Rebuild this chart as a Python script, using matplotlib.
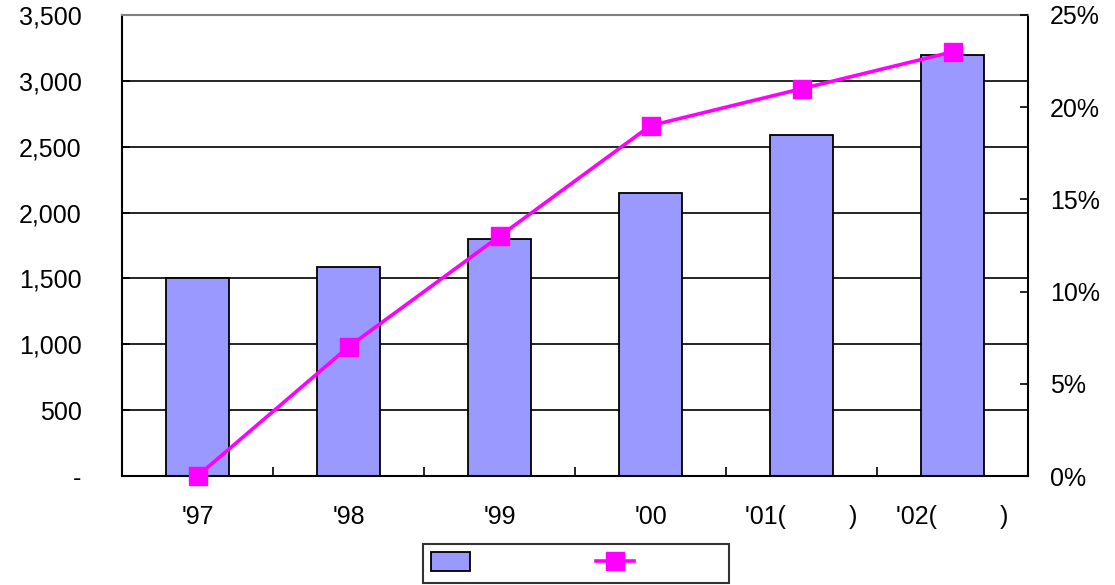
import numpy as np
import matplotlib.pyplot as plt
from matplotlib.ticker import FuncFormatter
from matplotlib.lines import Line2D
from matplotlib.patches import Patch

plt.rcParams['font.family'] = ['Liberation Sans', 'DejaVu Sans']

years = ["'97", "'98", "'99", "'00", "'01(         )", "'02(         )"]
amounts = [1500, 1590, 1800, 2150, 2590, 3200]
share = [0.0, 7.0, 13.0, 19.0, 21.0, 23.0]

fs = 18
fig = plt.figure(figsize=(11.15, 5.85), dpi=100)
ax = fig.add_axes([122 / 1115, 109 / 585, 906 / 1115, 461 / 585])
x = np.arange(len(years))

ax.bar(x, amounts, width=0.42, color='#9999ff', edgecolor='black', linewidth=1.3, zorder=2)
ax.set_xlim(-0.5, len(years) - 0.5)
ax.set_ylim(0, 3500)
ax.set_yticks(np.arange(0, 3501, 500))
ax.yaxis.set_major_formatter(FuncFormatter(lambda v, p: '-' if v == 0 else f'{int(v):,}'))
ax.grid(axis='y', color='black', lw=1.2, zorder=1)
ax.set_xticks(x)
ax.set_xticklabels(years)
ax.set_xticks(np.arange(-0.5, len(years)), minor=True)
ax.tick_params(axis='x', which='major', length=0, pad=21, labelsize=fs)
ax.tick_params(axis='x', which='minor', length=6.5, direction='in', width=1.2)
ax.tick_params(axis='y', direction='in', length=6, width=1.2, labelsize=fs, pad=29)
ax.spines['top'].set_color('gray')
ax.spines['top'].set_linewidth(1.5)
for s in ['left', 'bottom', 'right']:
    ax.spines[s].set_linewidth(1.5)

ax2 = ax.twinx()
ax2.plot(x, share, color='#ff00ff', lw=2.6, marker='s', markersize=12.5, zorder=3, clip_on=False)
ax2.set_ylim(0, 25)
ax2.set_yticks(np.arange(0, 26, 5))
ax2.yaxis.set_major_formatter(FuncFormatter(lambda v, p: f'{int(v)}%'))
ax2.tick_params(axis='y', direction='in', length=6, width=1.2, labelsize=fs, pad=16)
for s in ax2.spines.values():
    s.set_visible(False)

handles = [Patch(facecolor='#9999ff', edgecolor='black', linewidth=1.3),
           Line2D([], [], color='#ff00ff', lw=2.6, marker='s', markersize=12.5)]
leg = fig.legend(handles, [' ' * 13, ' ' * 11], ncol=2,
                 loc='center', bbox_to_anchor=(576 / 1115, 1 - 563.5 / 585),
                 frameon=True, fancybox=False, edgecolor='black', fontsize=fs,
                 handlelength=1.55, handleheight=0.8, columnspacing=1.0,
                 borderpad=0.3, handletextpad=0.4, borderaxespad=0)
leg.get_frame().set_linewidth(1.5)

fig.savefig('out.png', dpi=100)
